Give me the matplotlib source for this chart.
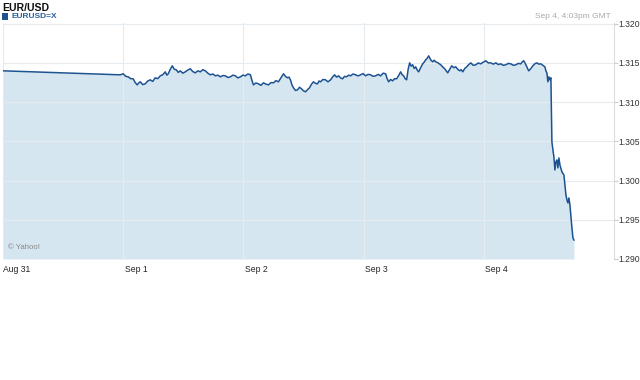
import matplotlib
matplotlib.use("Agg")
import matplotlib.pyplot as plt
from matplotlib.patches import Rectangle
from matplotlib.transforms import ScaledTranslation

plt.rcParams['font.family'] = ['Liberation Sans', 'DejaVu Sans']

# hours since Aug 31 00:00 (rows of 10, matching prices rows)
hours = [
    0, 23.4, 24, 24.5, 25, 25.5, 26, 26.4, 26.8, 27.1,
    27.4, 27.9, 28.4, 28.9, 29.4, 29.9, 30.4, 30.9, 31.4, 31.9,
    32.4, 32.7, 33, 33.4, 33.8, 34.2, 34.6, 35, 35.4, 35.9,
    36.4, 36.9, 37.4, 37.9, 38.4, 38.9, 39.4, 39.9, 40.4, 40.9,
    41.4, 41.9, 42.4, 42.9, 43.4, 43.9, 44.4, 44.9, 45.4, 45.9,
    46.4, 46.9, 47.4, 47.9, 48.4, 48.9, 49.4, 49.7, 50, 50.5,
    51, 51.5, 52, 52.5, 53, 53.5, 54, 54.5, 55, 55.5,
    56, 56.4, 56.8, 57.1, 57.4, 57.7, 58, 58.4, 58.8, 59.2,
    59.6, 60, 60.4, 60.8, 61.2, 61.6, 62, 62.4, 62.8, 63.1,
    63.4, 63.9, 64.4, 64.9, 65.4, 65.8, 66.2, 66.6, 67, 67.4,
    67.8, 68.2, 68.6, 69, 69.4, 69.9, 70.4, 70.9, 71.4, 71.9,
    72.4, 72.9, 73.4, 73.9, 74.4, 74.9, 75.4, 75.9, 76.4, 76.7,
    77, 77.4, 77.8, 78.2, 78.6, 79, 79.4, 79.7, 80, 80.3,
    80.6, 80.9, 81.2, 81.5, 81.8, 82.1, 82.4, 82.7, 83, 83.4,
    83.8, 84.1, 84.4, 84.7, 85, 85.4, 85.8, 86.1, 86.4, 86.9,
    87.4, 87.8, 88.2, 88.5, 88.8, 89.2, 89.6, 90, 90.4, 90.8,
    91.2, 91.5, 91.8, 92.2, 92.6, 93, 93.4, 93.9, 94.4, 94.9,
    95.4, 95.9, 96.4, 96.9, 97.4, 97.9, 98.4, 98.9, 99.4, 99.9,
    100.4, 100.9, 101.4, 101.9, 102.4, 102.9, 103.4, 103.7, 104, 104.3,
    104.6, 104.8, 105, 105.4, 105.8, 106.2, 106.6, 107, 107.4, 107.8,
    108.2, 108.4, 108.6, 108.8, 109, 109.2, 109.4, 109.6, 109.8, 110,
    110.2, 110.4, 110.6, 110.8, 111, 111.2, 111.6, 112, 112.2, 112.4,
    112.6, 112.8, 113, 113.2, 113.4, 113.6, 113.8, 114]
prices = [
    1.31400, 1.31349, 1.31362, 1.31330, 1.31323, 1.31300, 1.31298, 1.31250, 1.31221, 1.31245,
    1.31260, 1.31225, 1.31234, 1.31270, 1.31285, 1.31265, 1.31311, 1.31300, 1.31336, 1.31350,
    1.31387, 1.31345, 1.31362, 1.31420, 1.31464, 1.31420, 1.31413, 1.31380, 1.31400, 1.31370,
    1.31387, 1.31410, 1.31426, 1.31390, 1.31374, 1.31400, 1.31387, 1.31415, 1.31400, 1.31370,
    1.31349, 1.31360, 1.31336, 1.31345, 1.31323, 1.31340, 1.31336, 1.31315, 1.31323, 1.31345,
    1.31336, 1.31310, 1.31323, 1.31345, 1.31336, 1.31360, 1.31349, 1.31280, 1.31221, 1.31245,
    1.31234, 1.31215, 1.31247, 1.31230, 1.31221, 1.31250, 1.31247, 1.31275, 1.31260, 1.31310,
    1.31362, 1.31330, 1.31311, 1.31320, 1.31285, 1.31220, 1.31183, 1.31150, 1.31157, 1.31190,
    1.31170, 1.31145, 1.31132, 1.31160, 1.31183, 1.31230, 1.31260, 1.31240, 1.31234, 1.31270,
    1.31260, 1.31290, 1.31285, 1.31260, 1.31285, 1.31320, 1.31349, 1.31320, 1.31336, 1.31310,
    1.31298, 1.31330, 1.31323, 1.31345, 1.31336, 1.31360, 1.31349, 1.31335, 1.31349, 1.31365,
    1.31336, 1.31355, 1.31349, 1.31330, 1.31336, 1.31355, 1.31336, 1.31370, 1.31362, 1.31300,
    1.31260, 1.31290, 1.31272, 1.31300, 1.31298, 1.31340, 1.31387, 1.31350, 1.31336, 1.31300,
    1.31285, 1.31420, 1.31502, 1.31460, 1.31477, 1.31430, 1.31451, 1.31410, 1.31387, 1.31440,
    1.31489, 1.31510, 1.31540, 1.31560, 1.31591, 1.31540, 1.31515, 1.31535, 1.31515, 1.31500,
    1.31477, 1.31450, 1.31426, 1.31400, 1.31374, 1.31420, 1.31464, 1.31440, 1.31451, 1.31420,
    1.31400, 1.31415, 1.31387, 1.31430, 1.31451, 1.31480, 1.31502, 1.31470, 1.31477, 1.31500,
    1.31489, 1.31510, 1.31528, 1.31500, 1.31502, 1.31485, 1.31502, 1.31480, 1.31489, 1.31470,
    1.31477, 1.31495, 1.31489, 1.31470, 1.31477, 1.31495, 1.31489, 1.31515, 1.31528, 1.31490,
    1.31451, 1.31420, 1.31400, 1.31430, 1.31464, 1.31490, 1.31502, 1.31485, 1.31489, 1.31470,
    1.31451, 1.31400, 1.31374, 1.31260, 1.31323, 1.31285, 1.31311, 1.30494, 1.30391, 1.30302,
    1.30136, 1.30238, 1.30264, 1.30162, 1.30289, 1.30200, 1.30111, 1.30072, 1.29945, 1.29817,
    1.29753, 1.29715, 1.29779, 1.29689, 1.29536, 1.29396, 1.29268, 1.29242]

day_ticks = [0, 24, 48, 72, 96]
day_labels = ["Aug 31", "Sep 1", "Sep 2", "Sep 3", "Sep 4"]
price_ticks = [1.290, 1.295, 1.300, 1.305, 1.310, 1.315, 1.320]

line_c = "#1d5391"
fill_c = "#d6e6f1"

fig = plt.figure(figsize=(6.4, 3.8), dpi=100)
ax = fig.add_axes([3/640, 1 - 259/380, 611/640, 236/380])
ax.set_xlim(0, 122)
ax.set_ylim(1.290, 1.3201)

ax.fill_between(hours, prices, 1.290, color=fill_c, linewidth=0, zorder=1)
ax.plot(hours, prices, color=line_c, linewidth=1.1, zorder=3)

ax.set_xticks(day_ticks)
ax.set_xticklabels(day_labels, ha="left")
ax.set_yticks(price_ticks)
ax.set_yticklabels(["%.3f" % p for p in price_ticks])
ax.yaxis.tick_right()
ax.tick_params(axis="y", length=3, color="#cccccc", labelsize=6.2, labelcolor="#333333", pad=0.5)
ax.tick_params(axis="x", length=0, labelsize=6.2, labelcolor="#222222", pad=4)
offset = ScaledTranslation(1.5/100, 0, fig.dpi_scale_trans)
for i, lab in enumerate(ax.get_xticklabels()):
    if i > 0:
        lab.set_transform(lab.get_transform() + offset)
ax.grid(True, color="#e6ebef", linewidth=0.8, zorder=2)
ax.set_axisbelow(False)
for s in ["top", "bottom", "left"]:
    ax.spines[s].set_visible(False)
ax.spines["right"].set_color("#dddddd")
ax.spines["right"].set_linewidth(0.8)

fig.text(2/640, 1 - 8/380, "EUR/USD", fontsize=7.6, fontweight="bold", color="#111111", va="center")
fig.patches.append(Rectangle((2/640, 1 - 20/380), 6/640, 7/380, transform=fig.transFigure,
                             facecolor=line_c, edgecolor="none", figure=fig))
fig.text(11/640, 1 - 16.5/380, "EURUSD=X", fontsize=6.0, fontweight="bold", color="#2a5fa0", va="center")
fig.text(611/640, 1 - 16/380, "Sep 4, 4:03pm GMT", fontsize=6.0, color="#aaaaaa", va="center", ha="right")
ax.text(0.008, 0.035, "\u00a9 Yahoo!", transform=ax.transAxes, fontsize=5.6, color="#888888", va="bottom")

fig.savefig("out.png", dpi=100)
